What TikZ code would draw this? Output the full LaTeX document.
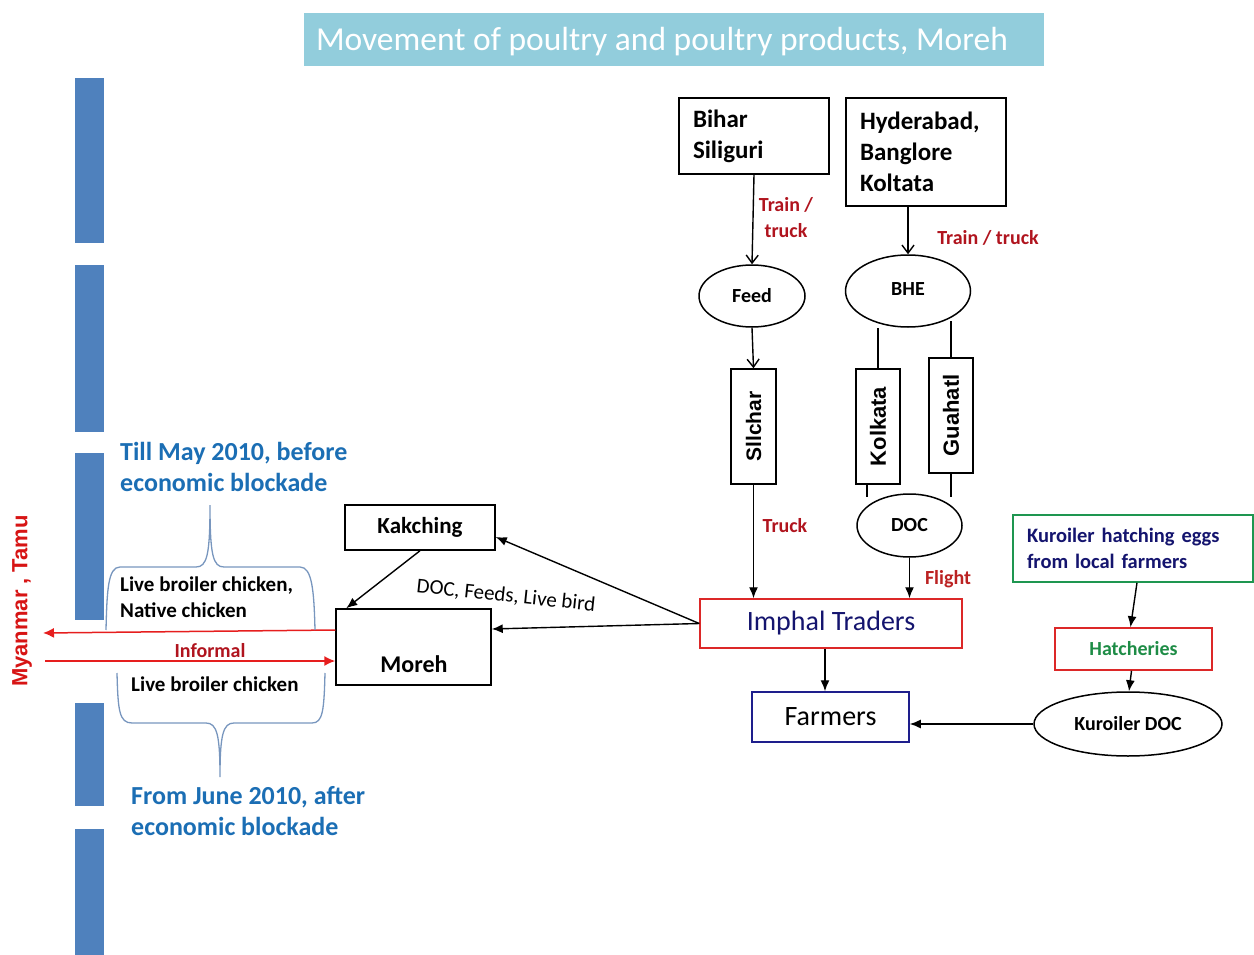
\documentclass[tikz,border=0pt]{standalone}
\usepackage{fontspec}
\setmainfont{Carlito}
\newfontfamily\arialf{Liberation Sans}
\usetikzlibrary{arrows.meta,shapes.geometric,calc}
\definecolor{titlefill}{RGB}{146,205,220}
\definecolor{barblue}{RGB}{79,129,189}
\definecolor{dred}{RGB}{176,20,30}
\definecolor{boxred}{RGB}{220,40,40}
\definecolor{navy}{RGB}{20,20,110}
\definecolor{fnavy}{RGB}{30,30,140}
\definecolor{gborder}{RGB}{30,150,80}
\definecolor{gtext}{RGB}{30,140,70}
\definecolor{lblue}{RGB}{27,110,180}
\definecolor{bracecol}{RGB}{120,150,190}
\definecolor{arred}{RGB}{230,30,30}
\definecolor{myred}{RGB}{215,20,20}
\tikzset{
  fz/.style={font=\fontsize{#1}{#1}\selectfont},
  rbox/.style={draw, line width=1.5pt, inner sep=0pt},
  ell/.style={draw, ellipse, line width=1.5pt, inner sep=0pt},
  fa/.style={-{Latex[length=11pt,width=9pt]}, line width=1.4pt},
  oa/.style={-{Straight Barb[length=8pt,width=12pt]}, line width=1.4pt},
  plain/.style={line width=1.4pt},
  redar/.style={-{Latex[length=11pt,width=10pt]}, line width=1.5pt, arred},
  lab/.style={font=\bfseries\fontsize{20}{26}\selectfont, text=dred, align=center, inner sep=0pt},
  blab/.style={font=\bfseries\fontsize{26}{31}\selectfont, text=lblue, align=left, inner sep=0pt, anchor=west},
  klab/.style={font=\bfseries\fontsize{21}{26}\selectfont, align=left, inner sep=0pt, anchor=west},
  brace/.style={draw=bracecol, line width=1.3pt}
}
\begin{document}
\begin{tikzpicture}[x=1pt,y=-1pt]
\useasboundingbox (0,0) rectangle (1254,955);
% left bars
\foreach \a/\b in {78/243,265/432,453/620,703/806,829/955}
  \fill[barblue] (75,\a) rectangle (104,\b);
% title
\fill[titlefill] (304,13) rectangle (1044,66);
\node[text=white, fz=33.5, inner sep=0pt] (title) at (662,42) {Movement of poultry and poultry products, Moreh};
% top boxes
\node[rbox, minimum width=150pt, minimum height=76pt, text width=122pt, align=left, font=\bfseries\fontsize{25}{31}\selectfont] (bihar) at (754,136) {Bihar\\Siliguri};
\node[rbox, minimum width=160pt, minimum height=108pt, text width=132pt, align=left, font=\bfseries\fontsize{25}{31}\selectfont] (hyd) at (926,152) {Hyderabad,\\Banglore\\Koltata};
\node[ell, minimum width=106pt, minimum height=62pt, font=\bfseries\fontsize{20}{24}\selectfont] (feed) at (752,296) {Feed};
\node[ell, minimum width=125pt, minimum height=72pt, font=\bfseries\fontsize{20}{24}\selectfont] (bhe) at (908,291) {\raisebox{4pt}{BHE}};
\node[rbox, minimum width=45pt, minimum height=115pt] (silchar) at (753.5,426.5) {};
\node[rotate=90, font=\arialf\bfseries\fontsize{21}{24}\selectfont] (silchart) at (silchar) {Sllchar};
\node[rbox, minimum width=44pt, minimum height=115pt] (kolkata) at (878,426.5) {};
\node[rotate=90, font=\arialf\bfseries\fontsize{22}{24}\selectfont] (kolkatat) at (kolkata) {Kolkata};
\node[rbox, minimum width=44pt, minimum height=115pt] (guahati) at (951,415.5) {};
\node[rotate=90, font=\arialf\bfseries\fontsize{22}{24}\selectfont] (guahatit) at (guahati) {Guahatl};
\node[ell, minimum width=105pt, minimum height=63pt, font=\bfseries\fontsize{20}{24}\selectfont] (doc) at (909.5,525.5) {DOC};
\node[rbox, draw=boxred, minimum width=262pt, minimum height=49pt, text=navy, fz=28] (imphal) at (831,623.5) {Imphal Traders};
\node[rbox, draw=fnavy, minimum width=157pt, minimum height=50pt, fz=28] (farmers) at (830.5,717) {Farmers};
\node[rbox, draw=gborder, minimum width=240pt, minimum height=67pt, text width=212pt, align=left, text=navy, font=\bfseries\fontsize{20.5}{26}\selectfont] (kegg) at (1133,548.5) {Kuroiler hatching eggs\\from local farmers};
\node[rbox, draw=boxred, minimum width=157pt, minimum height=42pt, text=gtext, font=\bfseries\fontsize{20}{24}\selectfont] (hatch) at (1133.5,649) {Hatcheries};
\node[ell, minimum width=188pt, minimum height=64pt, font=\bfseries\fontsize{20}{24}\selectfont] (kdoc) at (1128,724) {Kuroiler DOC};
\node[rbox, minimum width=150pt, minimum height=45pt, font=\bfseries\fontsize{23}{26}\selectfont] (kakching) at (420,527.5) {Kakching};
\node[rbox, minimum width=155pt, minimum height=76pt] (moreh) at (413.5,647) {};
\node[font=\bfseries\fontsize{24}{26}\selectfont, inner sep=0pt] (moreht) at (414,664) {Moreh};
% labels
\node[lab] (tt1) at (786,218) {Train /\\truck};
\node[lab] (tt2) at (988,238) {Train / truck};
\node[lab] (truck) at (785,526) {Truck};
\node[lab, text=boxred!85!black] (flight) at (948,579) {Flight};
\node[rotate=-6, fz=21, inner sep=0pt] (dfl) at (506,596) {DOC, Feeds, Live bird};
% connectors
\draw[oa] (bihar.south) -- (feed.north);
\draw[oa] (hyd.south -| bhe.north) -- (bhe.north);
\draw[oa] (feed.south) -- (silchar.north);
\draw[plain] (kolkata.north) -- (kolkata.north |- bhe.south);
\draw[plain] (guahati.north) -- (guahati.north |- bhe.-40);
\draw[plain] ([xshift=-11pt]kolkata.south) -- ([xshift=-11pt]kolkata.south |- doc.130);
\draw[plain] (guahati.south) -- (guahati.south |- doc.50);
\draw[fa] (silchar.south) -- (silchar.south |- imphal.north);
\draw[fa] (doc.south) -- (doc.south |- imphal.north);
\draw[fa] ([xshift=-6pt]imphal.south) -- ([xshift=-6pt]imphal.south |- farmers.north);
\draw[fa] ([xshift=4pt]kegg.south) -- ([xshift=-3pt]hatch.north);
\draw[fa] ([xshift=-2pt]hatch.south) -- ([xshift=1pt]kdoc.north);
\draw[fa] (kdoc.west) -- (kdoc.west -| farmers.east);
\draw[fa] (imphal.west) -- ([yshift=-9.5pt]kakching.east);
\draw[fa] (imphal.west) -- ([yshift=18pt]moreh.east);
\draw[fa] (kakching.south) -- ([xshift=11pt]moreh.north west);
% Myanmar side
\coordinate (mL1) at (43,633);
\coordinate (mL2) at (45,661);
\draw[redar] ([yshift=17pt]moreh.west) -- (mL1);
\draw[redar] (mL2) -- ([yshift=-14pt]moreh.west);
\node[rotate=90, text=myred, font=\arialf\bfseries\fontsize{22}{24}\selectfont] (myan) at (22,601) {Myanmar , Tamu};
\node[lab, text=dred] (informal) at (210,651) {Informal};
% braces
\draw[brace] (106,630) .. controls (107,590) and (108,567) .. (120,567) -- (196,567)
  .. controls (207,567) and (210,555) .. (210,505)
  .. controls (210,555) and (213,567) .. (224,567) -- (300,567)
  .. controls (312,567) and (314,590) .. (315,630);
\draw[brace] (117,673) .. controls (118,710) and (119,723) .. (132,723) -- (206,723)
  .. controls (217,723) and (220,735) .. (220,777)
  .. controls (220,735) and (223,723) .. (234,723) -- (312,723)
  .. controls (323,723) and (324,710) .. (325,673);
% blue texts
\node[blab] (till) at (120,467) {Till May 2010, before\\economic blockade};
\node[blab] (from) at (131,811) {From June 2010, after\\economic blockade};
\node[klab] (lb1) at (120,597) {Live broiler chicken,\\Native chicken};
\node[klab] (lb2) at (131,684) {Live broiler chicken};
\end{tikzpicture}
\end{document}
